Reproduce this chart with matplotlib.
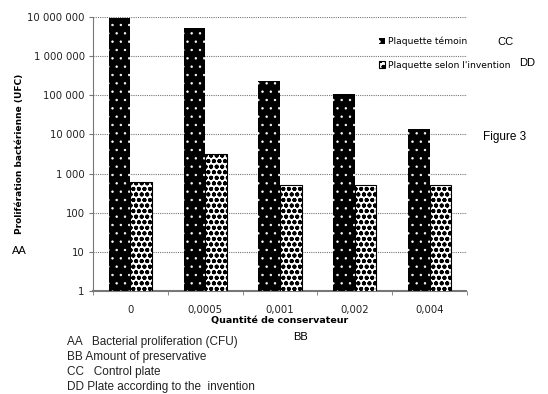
import matplotlib
matplotlib.use("Agg")
import matplotlib.pyplot as plt
import matplotlib.ticker as mticker
from matplotlib.patches import Patch
import numpy as np

categories = ["0", "0,0005", "0,001", "0,002", "0,004"]
control = [9.6e6, 5.3e6, 2.3e5, 1.1e5, 1.4e4]
invention = [620, 3200, 520, 500, 500]
ytick_values = [1, 10, 100, 1e3, 1e4, 1e5, 1e6, 1e7]

fig = plt.figure(figsize=(5.48, 3.94), dpi=100)
ax = fig.add_axes([93 / 548, 1 - 291 / 394, (467 - 93) / 548, (291 - 17) / 394])

x = np.arange(len(categories))
w = 0.29

# control: black bars with fine white dots
with plt.rc_context({"hatch.linewidth": 0.5}):
    ax.bar(x - w / 2, control, width=w, color="black", edgecolor="white",
           hatch="..", linewidth=0, zorder=3)
    h_ctrl = Patch(facecolor="black", edgecolor="white", hatch="..", linewidth=0)

# invention: white bars with bold black dots
with plt.rc_context({"hatch.linewidth": 1.3}):
    ax.bar(x + w / 2, invention, width=w, color="white", edgecolor="black",
           hatch="ooo", linewidth=0.8, zorder=3)
    h_inv = Patch(facecolor="white", edgecolor="black", hatch="ooo", linewidth=0.8)

ax.set_yscale("log")
ax.set_ylim(1, 1e7)
ax.set_xlim(-0.5, len(categories) - 0.5)
ax.set_yticks(ytick_values)
ax.yaxis.set_major_formatter(
    mticker.FuncFormatter(lambda v, p: f"{int(round(v)):,}".replace(",", " ")))
ax.yaxis.set_minor_locator(mticker.NullLocator())
ax.grid(axis="y", color="#777777", linestyle=(0, (1, 1)), linewidth=0.8, zorder=0)

ax.set_xticks(x)
ax.set_xticklabels(categories)
ax.set_xticks(np.arange(-0.5, len(categories)), minor=True)
ax.tick_params(axis="x", which="major", length=0, pad=10)
ax.tick_params(axis="x", which="minor", length=3, color="#777777")
ax.tick_params(axis="y", length=3, color="#777777", pad=3)
for lab in ax.get_xticklabels() + ax.get_yticklabels():
    lab.set_fontsize(7.3)
    lab.set_family("DejaVu Sans")
    lab.set_color("#222222")

for s in ["top", "right"]:
    ax.spines[s].set_visible(False)
ax.spines["left"].set_color("#777777")
ax.spines["left"].set_linestyle((0, (1, 1)))
ax.spines["bottom"].set_color("#777777")
ax.spines["bottom"].set_linewidth(1.5)
ax.spines["bottom"].set_linestyle((0, (1, 1)))

ax.set_ylabel("Prolifération bactérienne (UFC)", fontsize=6.5, fontweight="bold",
              labelpad=2)
ax.set_xlabel("Quantité de conservateur", fontsize=6.8, fontweight="bold", labelpad=1)

fig.legend([h_ctrl, h_inv], ["Plaquette témoin", "Plaquette selon l'invention"],
           loc="upper left", bbox_to_anchor=(374 / 548, 1 - 32 / 394),
           frameon=False, fontsize=6.6, handlelength=0.7, handleheight=0.7,
           handletextpad=0.35, labelspacing=1.6, borderpad=0)

fig.text(497 / 548, 1 - 42 / 394, "CC", fontsize=8, va="center", family="Liberation Sans")
fig.text(519 / 548, 1 - 63 / 394, "DD", fontsize=8, va="center", family="Liberation Sans")
fig.text(483 / 548, 1 - 137 / 394, "Figure 3", fontsize=8.5, va="center", family="Liberation Sans")
fig.text(12 / 548, 1 - 251 / 394, "AA", fontsize=8, va="center", family="Liberation Sans")
fig.text(293 / 548, 1 - 337 / 394, "BB", fontsize=8, va="center", family="Liberation Sans")

notes = ["AA   Bacterial proliferation (CFU)",
         "BB Amount of preservative",
         "CC   Control plate",
         "DD Plate according to the  invention"]
for i, t in enumerate(notes):
    fig.text(67 / 548, 1 - (342 + i * 15) / 394, t, fontsize=8.5, va="center",
             family="Liberation Sans", color="#222222")

fig.savefig("out.png", dpi=100)
